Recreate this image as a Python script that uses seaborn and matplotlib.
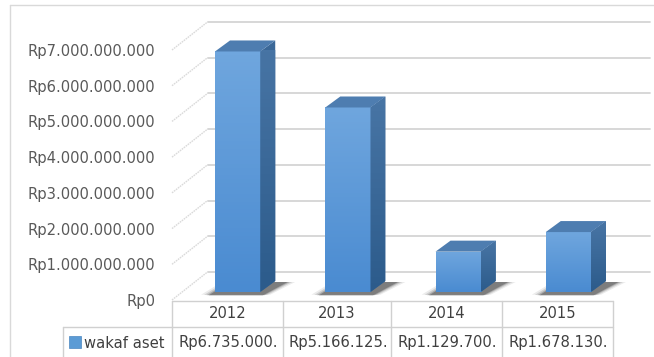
import numpy as np
import pandas as pd
import matplotlib
matplotlib.use("Agg")
import matplotlib.pyplot as plt
from matplotlib.patches import Polygon, Rectangle
from matplotlib.colors import LinearSegmentedColormap
import seaborn as sns

# ---- data ----
years = ["2012", "2013", "2014", "2015"]
values = [6735000000, 5166125000, 1129700000, 1678130000]
series_name = "wakaf aset"
y_ticks = [0, 1e9, 2e9, 3e9, 4e9, 5e9, 6e9, 7e9]

def rp(v):
    return "Rp" + f"{int(round(v)):,}".replace(",", ".")

cell_labels = [rp(v)[:12] for v in values]

df = pd.DataFrame({"year": years, "value": values})

sns.set_theme(style="white")
plt.rcParams["font.family"] = ["DejaVu Sans"]

W, H = 654, 357
fig = plt.figure(figsize=(W / 100, H / 100), dpi=100)
fig.patch.set_facecolor("white")

# front plane of the 3D box (pixel geometry, y from top)
left_px, right_px = 172, 613
zero_px, top_px = 300, 50
ax = fig.add_axes([left_px / W, (H - zero_px) / H, (right_px - left_px) / W, (zero_px - top_px) / H])
ax.set_facecolor("none")

sns.barplot(data=df, x="year", y="value", ax=ax, width=0.41, color="#5b9bd5",
            saturation=1, edgecolor="none", zorder=5)
ax.set_xlim(-0.5, len(years) - 0.5)
ax.set_ylim(0, 7e9)
for s in ax.spines.values():
    s.set_visible(False)
ax.set_xlabel("")
ax.set_ylabel("")
ax.set_xticks([])
ax.set_yticks(y_ticks)
ax.set_yticklabels([rp(v) for v in y_ticks])
ax.tick_params(axis="y", length=0, pad=12, labelsize=10.6, labelcolor="#595959")

fig.canvas.draw()
T = ax.transData
Ti = ax.transData.inverted()

def P(x, y):
    return np.array(T.transform((x, y)))

def D(pts):
    return Ti.transform(np.asarray(pts))

FD = np.array([35.5, 28.0])   # floor depth (display px, right/up)
BO = np.array([10.5, 8.0])    # bar front offset
BD = np.array([15.0, 11.0])   # bar depth
right_end = 650
grid_c = "#d4d4d4"

# gridlines: left wall diagonals + back wall horizontals
for v in y_ticks:
    f = P(-0.5, v)
    b = f + FD
    e = np.array([right_end, b[1]])
    pts = D([f, b])
    ax.plot(pts[:, 0], pts[:, 1], color="#dadada", lw=1.0, ls=(0, (1.2, 0.6)), clip_on=False, zorder=1)
    pts = D([b, e])
    ax.plot(pts[:, 0], pts[:, 1], color=grid_c, lw=1.3, clip_on=False, zorder=1)

# 3D bars
grad = np.linspace(0, 1, 64).reshape(-1, 1)
front_cmap = LinearSegmentedColormap.from_list("f", ["#4a8bd1", "#6fa6de"])
side_cmap = LinearSegmentedColormap.from_list("s", ["#2c5b8b", "#4875a5"])

for p in list(ax.patches):
    x0, w, h = p.get_x(), p.get_width(), p.get_height()
    bl = P(x0, 0) + BO
    br = P(x0 + w, 0) + BO
    tl = P(x0, h) + BO
    tr = P(x0 + w, h) + BO
    # soft shadow on the floor
    for k, a in [(8, 0.08), (5, 0.12), (2.5, 0.18), (0.5, 0.25)]:
        sh = [bl + np.array([-k - 6, -3.5 + k * 0.1]), br + np.array([k + 2, -3.5 + k * 0.1]),
              br + BD + np.array([k + 12, -1]), bl + BD + np.array([-k, -1])]
        ax.add_patch(Polygon(D(sh), closed=True, facecolor="black", alpha=a,
                             edgecolor="none", clip_on=False, zorder=3))
    # front face (move seaborn bar by the 3D offset)
    fb = D([bl, tr])
    p.set_x(fb[0, 0]); p.set_y(fb[0, 1])
    p.set_width(fb[1, 0] - fb[0, 0]); p.set_height(fb[1, 1] - fb[0, 1])
    p.set_clip_on(False)
    p.set_zorder(6)
    im = ax.imshow(grad, cmap=front_cmap, aspect="auto", origin="lower",
                   extent=(fb[0, 0], fb[1, 0], fb[0, 1], fb[1, 1]), zorder=6.5)
    im.set_clip_path(p)
    # side face
    side = Polygon(D([br, tr, tr + BD, br + BD]), closed=True, facecolor="#3b6898",
                   edgecolor="none", clip_on=False, zorder=6)
    ax.add_patch(side)
    sb = D([br, tr + BD])
    im2 = ax.imshow(grad, cmap=side_cmap, aspect="auto", origin="lower",
                    extent=(sb[0, 0], sb[1, 0], sb[0, 1], sb[1, 1]), zorder=6.5)
    im2.set_clip_path(side)
    # top face
    ax.add_patch(Polygon(D([tl, tr, tr + BD, tl + BD]), closed=True, facecolor="#4e7db0",
                         edgecolor="none", clip_on=False, zorder=7))

ax.set_xlim(-0.5, len(years) - 0.5)
ax.set_ylim(0, 7e9)

# ---- outer frame + data table (figure pixel coords, y from top) ----
def fl(xs, ys, c="#d9d9d9", lw=1.0):
    fig.add_artist(plt.Line2D([x / W for x in xs], [(H - y) / H for y in ys],
                              color=c, lw=lw, transform=fig.transFigure))

fl([10, 10], [5, 357])
fl([10, 654], [5, 5])

col_edges = [172, 283, 391, 502, 613]
row_top, row_mid, row_bot = 301, 327, 357
fl([172, 613], [row_top, row_top], c="#d0d0d0")
fl([63, 613], [row_mid, row_mid], c="#d0d0d0")
fl([63, 63], [row_mid, row_bot], c="#d0d0d0")
for x in col_edges:
    fl([x, x], [row_top, row_bot], c="#d0d0d0")

txt_kw = dict(fontsize=10.6, color="#404040", ha="center", va="center")
for i, yr in enumerate(years):
    cx = (col_edges[i] + col_edges[i + 1]) / 2
    fig.text(cx / W, (H - 314) / H, yr, **txt_kw)
    fig.text((cx + 1) / W, (H - 343) / H, cell_labels[i], **txt_kw)

fig.add_artist(Rectangle((69 / W, (H - 348) / H), 12 / W, 12 / H, transform=fig.transFigure,
                         facecolor="#5b9bd5", edgecolor="#4a86c0", lw=0.5))
fig.text(84 / W, (H - 343) / H, series_name, fontsize=10.6, color="#404040",
         ha="left", va="center")

fig.savefig("out.png", dpi=100)
